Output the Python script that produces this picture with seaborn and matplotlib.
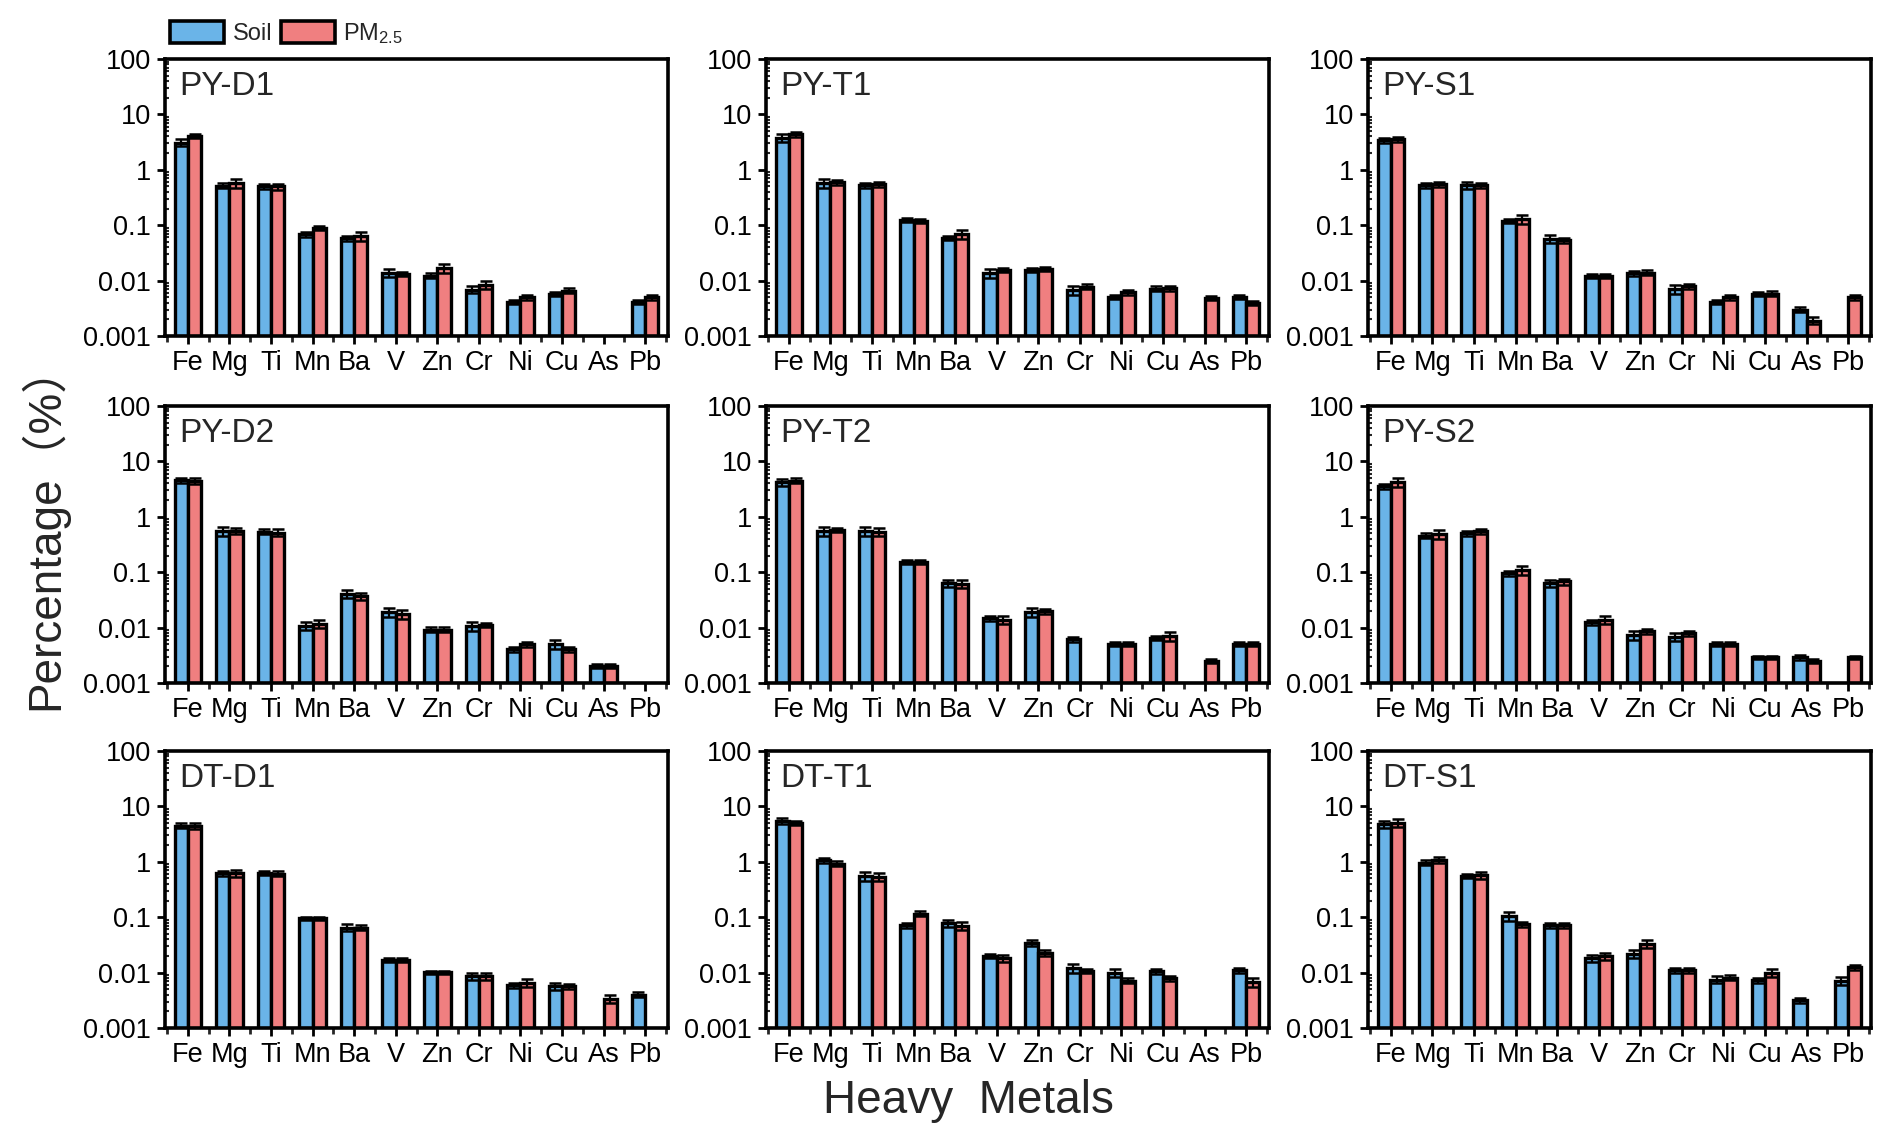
import numpy as np
import pandas as pd
import matplotlib
matplotlib.use('Agg')
import matplotlib.pyplot as plt
import seaborn as sns
from matplotlib.patches import Patch
from matplotlib.container import BarContainer

nan = np.nan

metals = ['Fe', 'Mg', 'Ti', 'Mn', 'Ba', 'V', 'Zn', 'Cr', 'Ni', 'Cu', 'As', 'Pb']
sources = ['Soil', 'PM2.5']
panels = ['PY-D1', 'PY-T1', 'PY-S1', 'PY-D2', 'PY-T2', 'PY-S2', 'DT-D1', 'DT-T1', 'DT-S1']

# mean percentage (%), nan = not detected
soil_pyd1 = [3.1, 0.52, 0.50, 0.068, 0.058, 0.0138, 0.0123, 0.0069, 0.0041, 0.0057, nan, 0.0041]
pm_pyd1 = [4.1, 0.57, 0.50, 0.0895, 0.064, 0.013, 0.0167, 0.0085, 0.0050, 0.0066, nan, 0.0050]
soil_pyt1 = [3.8, 0.57, 0.53, 0.125, 0.059, 0.0136, 0.0156, 0.0068, 0.0051, 0.0072, nan, 0.0051]
pm_pyt1 = [4.4, 0.60, 0.55, 0.120, 0.070, 0.0156, 0.0163, 0.0078, 0.0061, 0.0073, 0.0048, 0.0039]
soil_pys1 = [3.4, 0.53, 0.53, 0.120, 0.057, 0.0123, 0.0136, 0.0071, 0.0041, 0.0057, 0.0030, nan]
pm_pys1 = [3.6, 0.55, 0.53, 0.130, 0.054, 0.0123, 0.0140, 0.0080, 0.0050, 0.0058, 0.0019, 0.0050]
soil_pyd2 = [4.6, 0.56, 0.54, 0.0109, 0.041, 0.0191, 0.0092, 0.0105, 0.0041, 0.0050, 0.0020, nan]
pm_pyd2 = [4.4, 0.56, 0.52, 0.0118, 0.0366, 0.0178, 0.0092, 0.0112, 0.0050, 0.0041, 0.0020, nan]
soil_pyt2 = [4.25, 0.56, 0.55, 0.155, 0.063, 0.0149, 0.0188, 0.0061, 0.0050, 0.0065, nan, 0.0050]
pm_pyt2 = [4.5, 0.58, 0.54, 0.155, 0.062, 0.0139, 0.0197, nan, 0.0050, 0.0070, 0.0025, 0.0050]
soil_pys2 = [3.6, 0.456, 0.50, 0.096, 0.063, 0.0126, 0.0073, 0.0069, 0.0050, 0.0029, 0.0029, nan]
pm_pys2 = [4.25, 0.49, 0.55, 0.110, 0.068, 0.0139, 0.0086, 0.0080, 0.0050, 0.0029, 0.0025, 0.0029]
soil_dtd1 = [4.5, 0.62, 0.63, 0.095, 0.065, 0.0172, 0.0101, 0.0086, 0.0059, 0.0057, nan, 0.0040]
pm_dtd1 = [4.5, 0.62, 0.61, 0.095, 0.065, 0.0172, 0.0101, 0.0086, 0.0066, 0.0057, 0.0034, nan]
soil_dtt1 = [5.5, 1.07, 0.56, 0.072, 0.079, 0.0200, 0.0348, 0.0121, 0.0100, 0.0105, nan, 0.0110]
pm_dtt1 = [5.1, 0.93, 0.54, 0.116, 0.070, 0.0184, 0.0230, 0.0106, 0.0072, 0.0079, nan, 0.0068]
soil_dts1 = [4.8, 0.96, 0.56, 0.104, 0.071, 0.0180, 0.0220, 0.0110, 0.0075, 0.0073, 0.0032, 0.0071]
pm_dts1 = [5.1, 1.10, 0.57, 0.075, 0.071, 0.0200, 0.0334, 0.0110, 0.0081, 0.0100, nan, 0.0126]

# relative error bars (fraction of mean)
soil_pyd1_err = [.15, .10, .10, .10, .12, .15, .10, .15, .08, .08, nan, .08]
pm_pyd1_err = [.10, .18, .12, .10, .18, .08, .18, .18, .10, .10, nan, .10]
soil_pyt1_err = [.15, .18, .10, .10, .10, .18, .10, .18, .10, .10, nan, .10]
pm_pyt1_err = [.10, .10, .10, .10, .18, .10, .10, .10, .10, .10, .08, .08]
soil_pys1_err = [.10, .10, .15, .10, .18, .08, .10, .18, .08, .08, .10, nan]
pm_pys1_err = [.10, .10, .10, .18, .10, .08, .10, .10, .10, .10, .15, .10]
soil_pyd2_err = [.10, .18, .10, .18, .18, .18, .10, .18, .10, .18, .08, nan]
pm_pyd2_err = [.12, .12, .15, .18, .15, .18, .10, .10, .10, .10, .08, nan]
soil_pyt2_err = [.15, .18, .18, .08, .15, .10, .18, .10, .08, .10, nan, .08]
pm_pyt2_err = [.10, .10, .15, .08, .15, .15, .10, nan, .08, .18, .10, .08]
soil_pys2_err = [.10, .10, .10, .10, .15, .10, .18, .18, .08, .08, .10, nan]
pm_pys2_err = [.18, .18, .10, .18, .12, .18, .10, .10, .08, .08, .08, .08]
soil_dtd1_err = [.10, .12, .10, .08, .15, .08, .08, .15, .10, .15, nan, .10]
pm_dtd1_err = [.12, .15, .10, .08, .10, .08, .08, .15, .18, .10, .18, nan]
soil_dtt1_err = [.12, .10, .18, .10, .15, .10, .12, .18, .18, .10, nan, .10]
pm_dtt1_err = [.08, .10, .15, .10, .15, .15, .12, .08, .10, .12, nan, .18]
soil_dts1_err = [.15, .10, .08, .18, .10, .15, .15, .10, .15, .10, .10, .15]
pm_dts1_err = [.15, .12, .15, .10, .10, .15, .18, .10, .10, .15, nan, .10]

panel_data = {
    'PY-D1': (soil_pyd1, pm_pyd1, soil_pyd1_err, pm_pyd1_err),
    'PY-T1': (soil_pyt1, pm_pyt1, soil_pyt1_err, pm_pyt1_err),
    'PY-S1': (soil_pys1, pm_pys1, soil_pys1_err, pm_pys1_err),
    'PY-D2': (soil_pyd2, pm_pyd2, soil_pyd2_err, pm_pyd2_err),
    'PY-T2': (soil_pyt2, pm_pyt2, soil_pyt2_err, pm_pyt2_err),
    'PY-S2': (soil_pys2, pm_pys2, soil_pys2_err, pm_pys2_err),
    'DT-D1': (soil_dtd1, pm_dtd1, soil_dtd1_err, pm_dtd1_err),
    'DT-T1': (soil_dtt1, pm_dtt1, soil_dtt1_err, pm_dtt1_err),
    'DT-S1': (soil_dts1, pm_dts1, soil_dts1_err, pm_dts1_err),
}

colors = {'Soil': '#6AB4E8', 'PM2.5': '#F07F80'}
yticks = [0.001, 0.01, 0.1, 1, 10, 100]
ytick_labels = ['0.001', '0.01', '0.1', '1', '10', '100']

sns.set_style('ticks')
plt.rcParams['font.family'] = ['Liberation Sans', 'Noto Sans CJK SC', 'DejaVu Sans']
plt.rcParams['mathtext.default'] = 'regular'

fig = plt.figure(figsize=(18.92, 11.43), dpi=100)

W, H = 1892, 1143
col_left = [165, 766, 1368]
row_bottom = [336, 683, 1028]
ax_w, ax_h = 503, 277

for i, name in enumerate(panels):
    r, c = divmod(i, 3)
    ax = fig.add_axes([col_left[c] / W, 1 - row_bottom[r] / H, ax_w / W, ax_h / H])
    soil, pm, soil_err, pm_err = panel_data[name]
    df = pd.DataFrame({
        'metal': metals * 2,
        'source': ['Soil'] * 12 + ['PM2.5'] * 12,
        'value': soil + pm,
    })
    sns.barplot(data=df, x='metal', y='value', hue='source', order=metals,
                hue_order=sources, palette=colors, saturation=1, width=0.64,
                errorbar=None, edgecolor='black', linewidth=2.4, legend=False, ax=ax)
    ax.set_yscale('log')

    errs = [soil_err, pm_err]
    bar_conts = [cn for cn in ax.containers if isinstance(cn, BarContainer)]
    for h, cont in enumerate(bar_conts):
        for p in cont.patches:
            hgt = p.get_height()
            if not np.isfinite(hgt) or hgt <= 0:
                continue
            xc = p.get_x() + p.get_width() / 2
            k = int(round(xc))
            e = errs[h][k] * hgt
            ax.errorbar(xc, hgt, yerr=e, fmt='none', ecolor='black',
                        elinewidth=1.6, capsize=4.3, capthick=1.8, zorder=5)

    ax.set_ylim(0.001, 100)
    ax.set_xlim(-0.55, 11.55)
    ax.set_yticks(yticks)
    ax.set_yticklabels(ytick_labels)
    ax.set_xticks(range(len(metals)))
    ax.set_xticklabels(metals)
    ax.set_xticks(np.arange(-0.5, 12, 1), minor=True)
    ax.set_xlabel('')
    ax.set_ylabel('')
    ax.tick_params(axis='both', which='major', labelsize=19.5, width=2, length=6,
                   direction='out', pad=4, colors='black')
    ax.tick_params(axis='x', which='minor', width=2, length=4, direction='out')
    ax.tick_params(axis='y', which='minor', width=1.5, length=3, direction='in')
    for s in ax.spines.values():
        s.set_linewidth(2.6)
        s.set_color('black')
        s.set_visible(True)
    ax.text(0.028, 0.955, name, transform=ax.transAxes, fontsize=24,
            va='top', ha='left')

handles = [Patch(facecolor=colors['Soil'], edgecolor='black', linewidth=2.6, label='Soil'),
           Patch(facecolor=colors['PM2.5'], edgecolor='black', linewidth=2.6,
                 label='PM$_{2.5}$')]
fig.legend(handles=handles, loc='center left', bbox_to_anchor=(0.0899, 0.971),
           ncol=2, frameon=False, fontsize=17, handlelength=2.3, handleheight=1.1,
           handletextpad=0.35, columnspacing=0.35, borderpad=0, borderaxespad=0)

fig.text(0.023, 0.539, 'Percentage（%）', rotation=90, fontsize=33,
         ha='center', va='center', family=['Liberation Sans', 'Noto Sans CJK SC'])
fig.text(968 / W, 0.026, 'Heavy  Metals', fontsize=33, ha='center', va='baseline')

fig.savefig('out.png', dpi=100)
